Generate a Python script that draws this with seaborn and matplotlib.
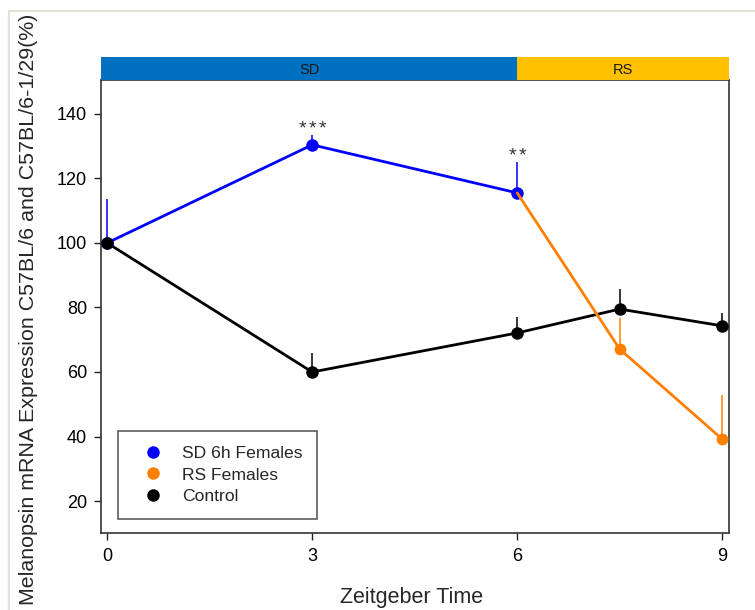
import matplotlib
matplotlib.use('Agg')
import matplotlib.pyplot as plt
import seaborn as sns
import pandas as pd
from matplotlib.lines import Line2D

# ---- data ----
sd_time = [0, 3, 6]
sd_val = [100, 130.4, 115.5]
sd_err = [13.6, 3.1, 9.6]

rs_time = [6, 7.5, 9]
rs_val = [115.5, 67.1, 39.2]
rs_err = [0, 9.6, 13.7]

ctrl_time = [0, 3, 6, 7.5, 9]
ctrl_val = [100, 60, 72.1, 79.5, 74.3]
ctrl_err = [0, 5.9, 5.0, 6.2, 4.0]

series_labels = ['SD 6h Females', 'RS Females', 'Control']
x_ticks = [0, 3, 6, 9]
y_ticks = [20, 40, 60, 80, 100, 120, 140]
phase_labels = ['SD', 'RS']
phase_split = 6
star_x = [3, 6]
star_y = [136.6, 128.2]
star_count = [3, 2]

# ---- style ----
sns.set_style('ticks')
plt.rcParams['font.family'] = ['Liberation Sans', 'DejaVu Sans']

c_blue = '#0000FF'
c_orange = '#FF8000'
c_black = '#000000'

fig = plt.figure(figsize=(7.55, 6.10), dpi=100)
ax = fig.add_axes([0.1338, 0.1262, 0.8318, 0.7427])
xlim = (-0.09, 9.10)
ylim = (10.1, 150.5)

lw = 2.0
ms = 9

# SD series
df_sd = pd.DataFrame({'t': sd_time, 'v': sd_val})
sns.lineplot(data=df_sd, x='t', y='v', ax=ax, color=c_blue, linewidth=lw,
             marker='o', markersize=ms, markeredgewidth=0, zorder=3)
ax.vlines(sd_time, sd_val, [v + e for v, e in zip(sd_val, sd_err)],
          color=c_blue, linewidth=1.1, zorder=3)

# Control series
df_c = pd.DataFrame({'t': ctrl_time, 'v': ctrl_val})
sns.lineplot(data=df_c, x='t', y='v', ax=ax, color=c_black, linewidth=lw,
             marker='o', markersize=ms, markeredgewidth=0, zorder=4)
ax.vlines(ctrl_time, ctrl_val, [v + e for v, e in zip(ctrl_val, ctrl_err)],
          color=c_black, linewidth=1.1, zorder=4)

# RS series (starts from last SD point)
df_rs = pd.DataFrame({'t': rs_time, 'v': rs_val})
sns.lineplot(data=df_rs, x='t', y='v', ax=ax, color=c_orange, linewidth=lw, zorder=5)
sns.scatterplot(data=df_rs.iloc[1:], x='t', y='v', ax=ax, color=c_orange,
                s=(ms - 0.5) ** 2, linewidth=0, zorder=5)
ax.vlines(rs_time[1:], rs_val[1:], [v + e for v, e in zip(rs_val[1:], rs_err[1:])],
          color=c_orange, linewidth=1.1, zorder=5)

# significance stars (each asterisk placed individually for spacing)
for x, y, n in zip(star_x, star_y, star_count):
    for i in range(n):
        off = (i - (n - 1) / 2) * 7.3
        ax.annotate('*', xy=(x, y), xytext=(off, -3), textcoords='offset points',
                    ha='center', va='center', fontsize=14, color='#333333')

ax.set_xlim(*xlim)
ax.set_ylim(*ylim)
ax.set_xticks(x_ticks)
ax.set_xticklabels([str(t) for t in x_ticks])
ax.set_yticks(y_ticks)
ax.tick_params(axis='both', direction='out', length=5, width=1.0,
               labelsize=13, color='#222222', labelcolor='black')
ax.tick_params(axis='x', pad=6)
ax.tick_params(axis='y', pad=5)
for sp in ax.spines.values():
    sp.set_visible(True)
    sp.set_color('#333333')
    sp.set_linewidth(1.2)
ax.set_xlabel('')
ax.set_ylabel('')

# legend
handles = [Line2D([], [], marker='o', linestyle='None', color=c, markersize=ms,
                  markeredgewidth=0) for c in (c_blue, c_orange, c_black)]
leg = ax.legend(handles, series_labels, loc='lower left',
                bbox_to_anchor=(0.027, 0.031), borderaxespad=0, frameon=True,
                fancybox=False, fontsize=12.6, handlelength=2.3,
                handletextpad=0.5, borderpad=0.85, labelspacing=0.36)
leg.get_frame().set_edgecolor('#333333')
leg.get_frame().set_linewidth(1.2)

# phase bar on top
bax = fig.add_axes([0.1338, 0.8689, 0.8318, 0.0377])
bax.set_xlim(*xlim)
bax.set_ylim(0, 1)
bax.axvspan(xlim[0], phase_split, color='#0070C0', lw=0)
bax.axvspan(phase_split, xlim[1], color='#FFC000', lw=0)
bax.text((xlim[0] + phase_split) / 2, 0.45, phase_labels[0], ha='center', va='center',
         fontsize=10.5, color='#1a1a1a')
bax.text((phase_split + xlim[1]) / 2, 0.45, phase_labels[1], ha='center', va='center',
         fontsize=10.5, color='#1a1a1a')
bax.axis('off')

# axis labels
fig.text(412 / 755, 1 - 597 / 610, 'Zeitgeber Time', ha='center', va='center', fontsize=15.5)
fig.text(29 / 755, 1 - 309 / 610,
         'Melanopsin mRNA Expression C57BL/6 and C57BL/6-1/29(%)',
         rotation=90, ha='center', va='center', fontsize=15.4)

# outer light frame (top & left)
fig.add_artist(Line2D([9 / 755, 9 / 755], [0, 1 - 11 / 610], transform=fig.transFigure,
                      color='#E2E2D6', linewidth=1.6))
fig.add_artist(Line2D([9 / 755, 1], [1 - 11 / 610, 1 - 11 / 610], transform=fig.transFigure,
                      color='#E2E2D6', linewidth=1.6))

fig.savefig('out.png', dpi=100)
